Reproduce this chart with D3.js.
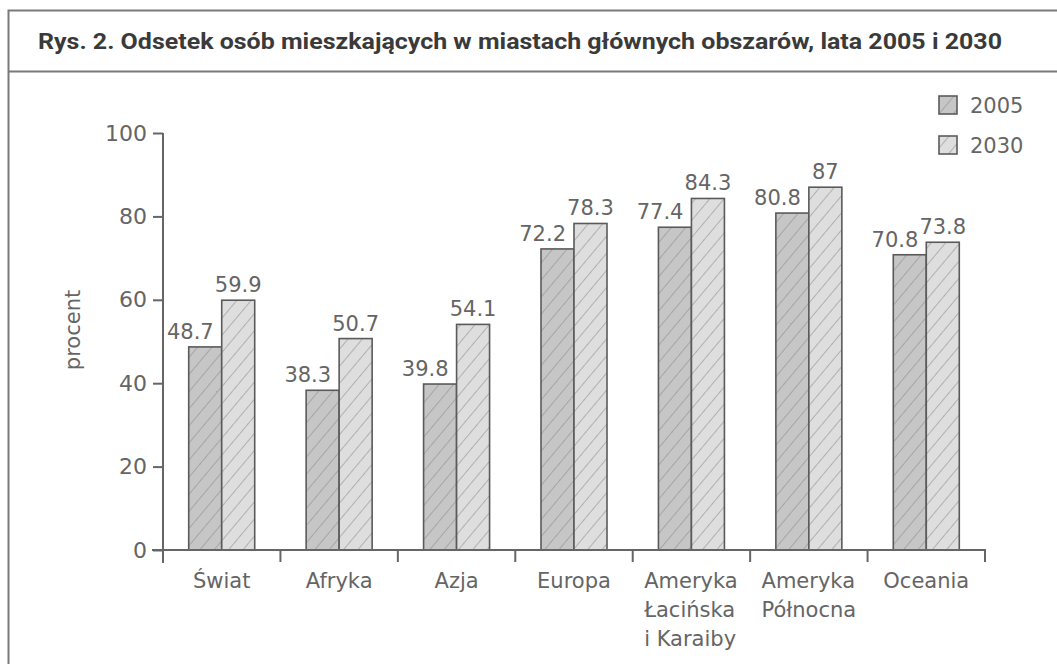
<!DOCTYPE html>
<html><head><meta charset="utf-8">
<script src="https://cdn.jsdelivr.net/npm/d3@7"></script>
<style>
body{margin:0;background:#fff;}
svg{display:block;}
text{font-family:"DejaVu Sans",sans-serif;fill:#656565;}
</style></head>
<body>
<svg id="chart" width="1057" height="664"></svg>
<script>
const categories = [["Świat"],["Afryka"],["Azja"],["Europa"],["Ameryka","Łacińska","i Karaiby"],["Ameryka","Północna"],["Oceania"]];
const seriesNames = ["2005","2030"];
const values2005 = [48.7,38.3,39.8,72.2,77.4,80.8,70.8];
const values2030 = [59.9,50.7,54.1,78.3,84.3,87,73.8];
const labels2005 = ["48.7","38.3","39.8","72.2","77.4","80.8","70.8"];
const labels2030 = ["59.9","50.7","54.1","78.3","84.3","87","73.8"];
const yTicks = [0,20,40,60,80,100];
const title = "Rys. 2. Odsetek osób mieszkających w miastach głównych obszarów, lata 2005 i 2030";

const svg = d3.select("#chart");
const defs = svg.append("defs");
const fills = ["#c6c6c6","#dedede"];
fills.forEach((f,i)=>{
  const p = defs.append("pattern").attr("id","hatch"+i)
    .attr("patternUnits","userSpaceOnUse").attr("width",11).attr("height",11)
    .attr("patternTransform","rotate(40)");
  p.append("rect").attr("width",11).attr("height",11).attr("fill",f);
  p.append("line").attr("x1",0).attr("y1",0).attr("x2",0).attr("y2",11)
    .attr("stroke","#8a8a8a").attr("stroke-width",1.1);
});

// frame
svg.append("path").attr("d","M1060,10.5 H8.5 V670").attr("fill","none").attr("stroke","#7a7a7a").attr("stroke-width",2);
svg.append("line").attr("x1",8).attr("x2",1060).attr("y1",71.5).attr("y2",71.5).attr("stroke","#7a7a7a").attr("stroke-width",2);
svg.append("text").attr("x",38).attr("y",49).text(title)
  .style("font-family","Roboto, sans-serif").style("font-weight","bold").style("font-size","22px").style("fill","#3a3a3a")
  .attr("textLength",964).attr("lengthAdjust","spacingAndGlyphs");

const x0 = 163, x1 = 985;
const x = d3.scaleBand().domain(d3.range(categories.length)).range([x0,x1]).padding(0);
const y = d3.scaleLinear().domain([0,100]).range([550,133]);
const xs = d3.scaleBand().domain(seriesNames).range([0,66]);
const barX = (i,si)=>x(i)+x.bandwidth()/2-33+xs(seriesNames[si]);

const g = svg.append("g");
const series = [values2005, values2030];
const labs = [labels2005, labels2030];
series.forEach((vals,si)=>{
  g.selectAll(null).data(vals).enter().append("rect")
    .attr("x",(d,i)=>barX(i,si))
    .attr("width",xs.bandwidth())
    .attr("y",d=>y(d)).attr("height",d=>y(0)-y(d))
    .attr("fill","url(#hatch"+si+")").attr("stroke","#5a5a5a").attr("stroke-width",1.6);
  g.selectAll(null).data(vals).enter().append("text")
    .attr("x",(d,i)=> si===0 ? barX(i,si)+xs.bandwidth()-8 : barX(i,si)+xs.bandwidth()/2)
    .attr("text-anchor", si===0 ? "end" : "middle")
    .attr("y",d=>y(d)-8).style("font-size","21px")
    .text((d,i)=>labs[si][i]);
});

// y axis
const ya = svg.append("g").attr("transform",`translate(${x0},0)`)
  .call(d3.axisLeft(y).tickValues(yTicks).tickSize(10).tickPadding(6));
ya.select(".domain").attr("d",`M0,${y(100)}H0V563`).attr("stroke","#666").attr("stroke-width",2);
ya.selectAll(".tick line").attr("stroke","#666").attr("stroke-width",2);
ya.selectAll(".tick text").style("font-size","22px").style("fill","#656565").style("font-family","DejaVu Sans, sans-serif");

// x axis
const xa = svg.append("g").attr("transform","translate(0,550)");
xa.append("line").attr("x1",152).attr("x2",x1+1).attr("y1",0).attr("y2",0).attr("stroke","#666").attr("stroke-width",2);
const bounds = d3.range(categories.length+1).map(i=> i<categories.length ? x(i) : x1);
xa.selectAll(null).data(bounds.slice(1)).enter().append("line")
  .attr("x1",d=>d).attr("x2",d=>d).attr("y1",0).attr("y2",12).attr("stroke","#666").attr("stroke-width",2);

// category labels (lines left aligned, block centered)
categories.forEach((lines,i)=>{
  const t = xa.append("text").attr("y",38).style("font-size","21px");
  lines.forEach((l,k)=>{
    t.append("tspan").attr("x",0).attr("dy",k===0?0:29).text(l);
  });
  const w = t.node().getBBox().width;
  t.attr("transform",`translate(${x(i)+x.bandwidth()/2 - w/2},0)`);
});

// y label
svg.append("text").attr("transform","translate(80,330) rotate(-90)").attr("text-anchor","middle")
  .style("font-size","21px").text("procent");

// legend
seriesNames.forEach((s,i)=>{
  svg.append("rect").attr("x",939).attr("y",96+i*40).attr("width",18).attr("height",18)
    .attr("fill","url(#hatch"+i+")").attr("stroke","#5a5a5a").attr("stroke-width",1.6);
  svg.append("text").attr("x",970).attr("y",113+i*40).style("font-size","21px").text(s);
});
</script>
</body></html>
